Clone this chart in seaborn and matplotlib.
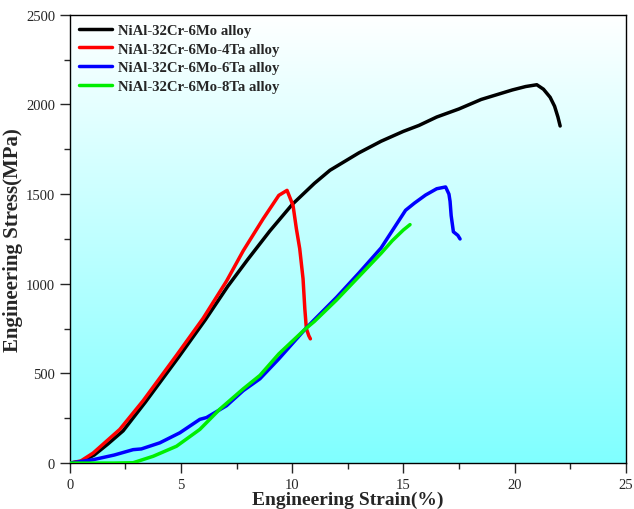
import numpy as np
import pandas as pd
import matplotlib
matplotlib.use("Agg")
import matplotlib.pyplot as plt
import seaborn as sns
from matplotlib.colors import LinearSegmentedColormap

strain_6mo = [0, 0.5, 1.1, 1.7, 2.4, 3.4, 4.9, 6.1, 7.1, 8.0, 9, 10, 11, 11.7, 13, 14, 15, 15.7,
              16.5, 17.5, 18.5, 19.9, 20.5, 21.0, 21.3, 21.6, 21.8, 21.95, 22.05]
stress_6mo = [0, 8, 45, 105, 180, 340, 592, 800, 985, 1135, 1295, 1442, 1560, 1633, 1730,
              1795, 1850, 1883, 1930, 1975, 2028, 2081, 2100, 2110, 2085, 2040, 1990, 1930, 1880]

strain_4ta = [0, 0.5, 1.05, 2.25, 3.3, 4.8, 6.0, 7.05, 7.8, 8.7, 9.4, 9.77, 10.04, 10.19, 10.34,
              10.49, 10.57, 10.64, 10.75, 10.82]
stress_4ta = [0, 12, 56, 188, 348, 601, 808, 1015, 1184, 1363, 1493, 1521, 1437, 1307, 1196,
              1028, 860, 749, 710, 693]

strain_6ta = [0, 1.05, 2.0, 2.85, 3.22, 4.05, 4.95, 5.85, 6.15, 7.05, 7.8, 8.55, 9.4, 10.6, 11, 12,
              13, 14, 15.1, 15.5, 16.0, 16.5, 16.9, 17.05, 17.1, 17.15, 17.25, 17.45, 17.55]
stress_6ta = [0, 19, 45, 75, 79, 113, 169, 244, 254, 320, 404, 470, 581, 749, 800, 925, 1060, 1200,
              1410, 1450, 1495, 1530, 1540, 1500, 1460, 1380, 1290, 1270, 1250]

strain_8ta = [0, 1, 2, 2.85, 3.75, 4.8, 5.85, 6.75, 7.8, 8.55, 9.4, 10.6, 11, 12, 13, 14, 14.5,
              15, 15.3]
stress_8ta = [0, 0, 0, 2, 38, 94, 188, 301, 414, 489, 609, 749, 790, 910, 1040, 1170, 1240,
              1300, 1330]

labels = ["NiAl-32Cr-6Mo alloy", "NiAl-32Cr-6Mo-4Ta alloy",
          "NiAl-32Cr-6Mo-6Ta alloy", "NiAl-32Cr-6Mo-8Ta alloy"]
colors = ["#000000", "#ff0000", "#0000ff", "#00ee00"]

sns.set_style("ticks")
plt.rcParams["font.family"] = ["Liberation Serif", "DejaVu Serif"]

fig = plt.figure(figsize=(6.34, 5.10), dpi=100)
ax = fig.add_axes([0.110, 0.090, 0.877, 0.879])

# gradient background: white on top, cyan at the bottom
cmap = LinearSegmentedColormap.from_list("bg", ["#80ffff", "#ffffff"])
grad = np.linspace(0, 1, 256).reshape(-1, 1)
ax.imshow(grad, cmap=cmap, aspect="auto", origin="lower", extent=[0, 1, 0, 1],
          transform=ax.transAxes, zorder=0)

series = [(strain_6mo, stress_6mo), (strain_4ta, stress_4ta),
          (strain_6ta, stress_6ta), (strain_8ta, stress_8ta)]
for (xs, ys), lab, col in zip(series, labels, colors):
    df = pd.DataFrame({"strain": xs, "stress": ys})
    sns.lineplot(data=df, x="strain", y="stress", sort=False, estimator=None,
                 color=col, linewidth=2.5, label=lab, ax=ax, zorder=3)

ax.set_xlim(0, 25)
ax.set_ylim(0, 2500)
ax.set_xticks([0, 5, 10, 15, 20, 25])
ax.set_yticks([0, 500, 1000, 1500, 2000, 2500])
ax.set_xticks(np.arange(2.5, 25, 5), minor=True)
ax.set_yticks(np.arange(250, 2500, 500), minor=True)
ax.tick_params(axis="both", which="major", labelsize=10.5, direction="out", length=7, width=1)
ax.tick_params(axis="both", which="minor", direction="out", length=4, width=1)

ax.set_xlabel("Engineering Strain(%)", fontsize=14, fontweight="bold", labelpad=0)
ax.set_ylabel("Engineering Stress(MPa)", fontsize=15, fontweight="bold", labelpad=2)

for sp in ax.spines.values():
    sp.set_linewidth(1.0)
    sp.set_color("black")

leg = ax.legend(loc="upper left", frameon=False, prop={"weight": "bold", "size": 10.6},
                handlelength=2.3, handletextpad=0.4, labelspacing=0.36,
                borderaxespad=0.2, bbox_to_anchor=(0.0, 1.0))

fig.savefig("out.png", dpi=100)
